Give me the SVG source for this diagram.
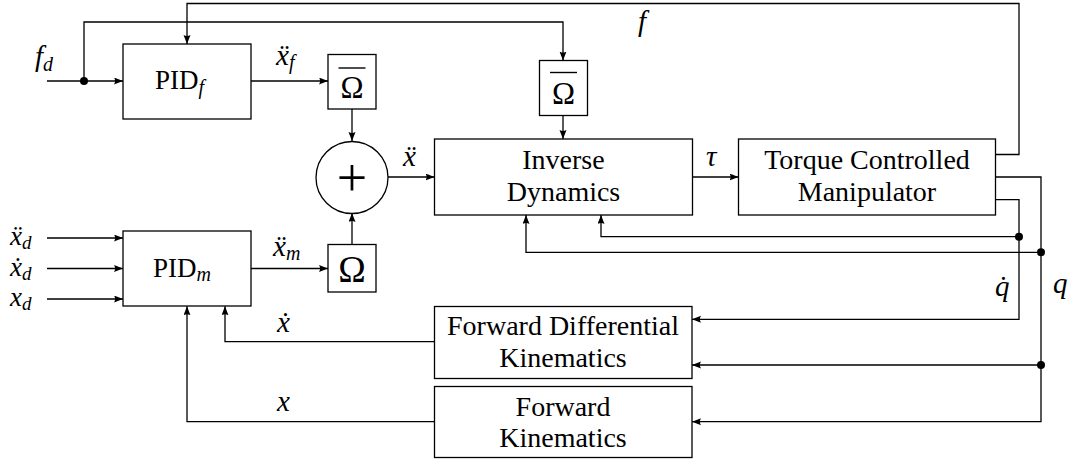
<svg xmlns="http://www.w3.org/2000/svg" width="1076" height="462" viewBox="0 0 1076 462">
<defs>
<style>
.box{fill:#fff;stroke:#000;stroke-width:1.3}
.ln{fill:none;stroke:#000;stroke-width:1.3}
.arr{marker-end:url(#ah)}
.t{font-family:'Liberation Serif',serif;font-size:28px;fill:#000;text-anchor:middle}
.p{font-family:'Liberation Serif',serif;font-size:27px;fill:#000}
.m{font-family:'Liberation Serif',serif;font-style:italic;font-size:29px;fill:#000}
.s{font-family:'Liberation Serif',serif;font-style:italic;font-size:20px;fill:#000}
.m2{font-family:'Liberation Serif',serif;font-style:italic;font-size:27px;fill:#000}
.s2{font-family:'Liberation Serif',serif;font-style:italic;font-size:19px;fill:#000}
.om{font-family:'Liberation Serif',serif;fill:#000;text-anchor:middle}
</style>
<marker id="ah" markerUnits="userSpaceOnUse" markerWidth="10" markerHeight="8" refX="9" refY="3.5" orient="auto">
<path d="M0,0 L9,3.5 L0,7 Q2.2,3.5 0,0 z" fill="#000"/>
</marker>
</defs>
<rect width="1076" height="462" fill="#fff"/>

<g id="connectors">
<path class="ln arr" d="M47,81 H123"/>
<path class="ln arr" d="M84,81 V22 H563 V60.5"/>
<path class="ln arr" d="M995.5,154.5 H1019 V3.5 H187 V44"/>
<path class="ln arr" d="M251,81 H328"/>
<path class="ln arr" d="M352,109 V141"/>
<path class="ln arr" d="M563,115.5 V139"/>
<path class="ln arr" d="M388,177 H434.5"/>
<path class="ln arr" d="M692.5,177 H738.5"/>
<path class="ln arr" d="M352,244.5 V213"/>
<path class="ln arr" d="M251,268.5 H328"/>
<path class="ln arr" d="M47,238 H123"/>
<path class="ln arr" d="M47,268.5 H123"/>
<path class="ln arr" d="M47,299 H123"/>
<path class="ln arr" d="M995.5,177 H1041 V421.7 H692"/>
<path class="ln arr" d="M995.5,199.7 H1019 V319.3 H692"/>
<path class="ln arr" d="M1019,236.7 H601 V215"/>
<path class="ln arr" d="M1041,252.3 H526 V215"/>
<path class="ln arr" d="M1041,365 H692"/>
<path class="ln arr" d="M434.5,341.7 H225 V306.3"/>
<path class="ln arr" d="M434.5,421.7 H187 V306.3"/>
<circle cx="84" cy="81" r="4" fill="#000"/>
<circle cx="1019" cy="236.7" r="4" fill="#000"/>
<circle cx="1041" cy="252.3" r="4" fill="#000"/>
<circle cx="1041" cy="365" r="4" fill="#000"/>
</g>

<g id="labels">
<text class="m" x="35" y="66">f<tspan class="s" dy="5">d</tspan></text>
<text class="m" x="276" y="65">ẍ<tspan class="s" dy="4">f</tspan></text>
<text class="m" x="638" y="31">f</text>
<text class="m" x="403" y="166">ẍ</text>
<text class="m" x="706" y="166">τ</text>
<text class="m2" x="10" y="245">ẍ<tspan class="s2" dy="4">d</tspan></text>
<text class="m2" x="10" y="276">ẋ<tspan class="s2" dy="4">d</tspan></text>
<text class="m2" x="10" y="306">x<tspan class="s2" dy="4">d</tspan></text>
<text class="m" x="273" y="256">ẍ<tspan class="s" dy="4">m</tspan></text>
<text class="m" x="277" y="332">ẋ</text>
<text class="m" x="277" y="411">x</text>
<text class="m" x="995" y="296">q̇</text>
<text class="m" x="1053" y="293">q</text>
</g>

<g id="pid_f">
<rect class="box" x="123" y="44" width="128" height="75"/>
<text class="p" x="155" y="88.5">PID<tspan class="s" dy="5">f</tspan></text>
</g>
<g id="pid_m">
<rect class="box" x="123" y="231" width="128" height="75"/>
<text class="p" x="153" y="277">PID<tspan class="s" dy="4">m</tspan></text>
</g>
<g id="omega_bar_left">
<rect class="box" x="328" y="54.5" width="48" height="54.5"/>
<line x1="338.5" y1="68" x2="365.5" y2="68" stroke="#000" stroke-width="1.4"/>
<text class="om" x="352" y="98" font-size="31">Ω</text>
</g>
<g id="omega_bar_right">
<rect class="box" x="539.5" y="60.5" width="48" height="55"/>
<line x1="550" y1="72.5" x2="577" y2="72.5" stroke="#000" stroke-width="1.4"/>
<text class="om" x="563.5" y="103.5" font-size="31">Ω</text>
</g>
<g id="omega">
<rect class="box" x="328" y="244.5" width="48" height="47.5"/>
<text class="om" x="352" y="281.5" font-size="37">Ω</text>
</g>
<g id="sum">
<circle cx="352" cy="177.5" r="36" fill="#fff" stroke="#000" stroke-width="1.3"/>
<text class="om" x="352" y="196" font-size="54">+</text>
</g>
<g id="inverse_dynamics">
<rect class="box" x="434.5" y="139" width="258" height="76"/>
<text class="t" x="563.5" y="169">Inverse</text>
<text class="t" x="563.5" y="201">Dynamics</text>
</g>
<g id="torque_manipulator">
<rect class="box" x="738.5" y="139" width="257" height="76"/>
<text class="t" x="867" y="168.5">Torque Controlled</text>
<text class="t" x="867" y="200.5">Manipulator</text>
</g>
<g id="forward_differential_kinematics">
<rect class="box" x="434.5" y="306.5" width="257.5" height="72"/>
<text class="t" x="563" y="335">Forward Differential</text>
<text class="t" x="563" y="367">Kinematics</text>
</g>
<g id="forward_kinematics">
<rect class="box" x="434.5" y="386.5" width="257.5" height="71"/>
<text class="t" x="563" y="416">Forward</text>
<text class="t" x="563" y="447">Kinematics</text>
</g>
</svg>
